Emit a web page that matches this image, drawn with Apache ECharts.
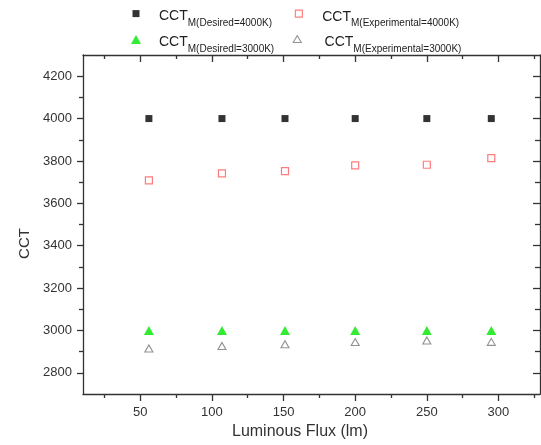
<!DOCTYPE html>
<html>
<head>
<meta charset="utf-8">
<script src="https://cdn.jsdelivr.net/npm/echarts@6/dist/echarts.min.js"></script>
<style>html,body{margin:0;padding:0;background:#fff}#c{width:541px;height:445px}</style>
</head>
<body>
<div id="c"></div>
<script>
// ---- data ----
const fluxValues = [56, 107, 151, 200, 250, 295];
const cctDesired4000 = [4000, 4000, 4000, 4000, 4000, 4000];
const cctExperimental4000 = [3708, 3741, 3752, 3779, 3782, 3813];
const cctDesired3000 = [3000, 3000, 3000, 3000, 3000, 3000];
const cctExperimental3000 = [2915, 2927, 2935, 2945, 2953, 2946];
const seriesNames = ['CCT_M(Desired=4000K)', 'CCT_M(Experimental=4000K)', 'CCT_M(Desiredl=3000K)', 'CCT_M(Experimental=3000K)'];
const legendSubs = ['M(Desired=4000K)', 'M(Experimental=4000K)', 'M(Desiredl=3000K)', 'M(Experimental=3000K)'];
const xMajorTicks = [50, 100, 150, 200, 250, 300];
const xMinorTicks = [25, 75, 125, 175, 225, 275, 325];
const yMajorTicks = [2800, 3000, 3200, 3400, 3600, 3800, 4000, 4200];
const yMinorTicks = [2900, 3100, 3300, 3500, 3700, 3900, 4100];
const xRange = [10, 329];
const yRange = [2700, 4300];

const FONT = 'Liberation Sans, Arial, sans-serif';
const AX = '#333';

function pairs(ys) { return fluxValues.map((x, i) => [x, ys[i]]); }

function xAx(pos, ticks, len, inside, showLine, showLabel, extra) {
  return Object.assign({
    type: 'value', position: pos, min: xRange[0], max: xRange[1],
    axisLine: { show: showLine, onZero: false, lineStyle: { color: AX, width: 1.3 } },
    axisTick: { show: true, inside: inside, length: len, customValues: ticks, lineStyle: { color: AX, width: 1.3 } },
    axisLabel: showLabel ? { show: true, customValues: ticks, margin: 12, fontSize: 13, color: '#333', fontFamily: FONT, formatter: v => String(v) } : { show: false },
    splitLine: { show: false }
  }, extra || {});
}
function yAx(pos, ticks, len, inside, showLine, showLabel, extra) {
  return Object.assign({
    type: 'value', position: pos, min: yRange[0], max: yRange[1],
    axisLine: { show: showLine, onZero: false, lineStyle: { color: AX, width: 1.3 } },
    axisTick: { show: true, inside: inside, length: len, customValues: ticks, lineStyle: { color: AX, width: 1.3 } },
    axisLabel: showLabel ? { show: true, customValues: ticks, margin: 11, fontSize: 13, color: '#333', fontFamily: FONT, formatter: v => String(v) } : { show: false },
    splitLine: { show: false }
  }, extra || {});
}

function mkLegend(idx, left, top, w, h, pad) {
  return {
    data: [seriesNames[idx]], left: left, top: top, padding: 0,
    itemWidth: w, itemHeight: h, selectedMode: false,
    itemStyle: { borderWidth: 1.1 },
    formatter: () => '{a|CCT}{b|' + legendSubs[idx] + '}',
    textStyle: {
      rich: {
        a: { fontSize: 14, fontFamily: FONT, color: '#222', verticalAlign: 'middle', padding: [6, 0, 0, pad] },
        b: { fontSize: 10, fontFamily: FONT, color: '#222', verticalAlign: 'bottom', lineHeight: 30 }
      }
    }
  };
}

const chart = echarts.init(document.getElementById('c'));
chart.setOption({
  animation: false,
  backgroundColor: '#fff',
  grid: { left: 83, right: 1, top: 55, bottom: 51, containLabel: false },
  legend: [
    mkLegend(0, 132.5, 9.6, 7, 7, 14.5),
    mkLegend(1, 294.8, 9.6, 7, 7, 14.9),
    mkLegend(2, 131, 35, 10, 9, 13),
    mkLegend(3, 292.7, 35, 8, 7, 18.3)
  ],
  xAxis: [
    xAx('bottom', xMajorTicks, 7, false, true, true, {
      name: 'Luminous Flux (lm)', nameLocation: 'middle', nameGap: 27,
      nameTextStyle: { fontSize: 16, fontFamily: FONT, color: '#333', padding: [0, 23, 0, 0] }
    }),
    xAx('bottom', xMinorTicks, 4, false, false, false),
    xAx('top', xMajorTicks, 7, true, true, false),
    xAx('top', xMinorTicks, 4, true, false, false)
  ],
  yAxis: [
    yAx('left', yMajorTicks, 6, false, true, true, {
      name: 'CCT', nameLocation: 'middle', nameGap: 45,
      nameTextStyle: { fontSize: 15, fontFamily: FONT, color: '#333', padding: [0, 38, 0, 0] }
    }),
    yAx('left', yMinorTicks, 4, false, false, false),
    yAx('right', yMajorTicks, 7, true, true, false),
    yAx('right', yMinorTicks, 5, true, false, false)
  ],
  series: [
    { name: seriesNames[0], type: 'scatter', xAxisIndex: 0, yAxisIndex: 0, symbol: 'rect', symbolSize: 7,
      itemStyle: { color: '#000' }, data: pairs(cctDesired4000) },
    { name: seriesNames[1], type: 'scatter', xAxisIndex: 0, yAxisIndex: 0, symbol: 'rect', symbolSize: 7,
      itemStyle: { color: '#fff', borderColor: '#ff5a5a', borderWidth: 1.2 }, data: pairs(cctExperimental4000) },
    { name: seriesNames[2], type: 'scatter', xAxisIndex: 0, yAxisIndex: 0, symbol: 'triangle', symbolSize: [10, 9],
      itemStyle: { color: '#00e600' }, data: pairs(cctDesired3000) },
    { name: seriesNames[3], type: 'scatter', xAxisIndex: 0, yAxisIndex: 0, symbol: 'triangle', symbolSize: [8, 7],
      itemStyle: { color: '#fff', borderColor: '#777', borderWidth: 1.1 }, data: pairs(cctExperimental3000) }
  ]
});
</script>
</body>
</html>
